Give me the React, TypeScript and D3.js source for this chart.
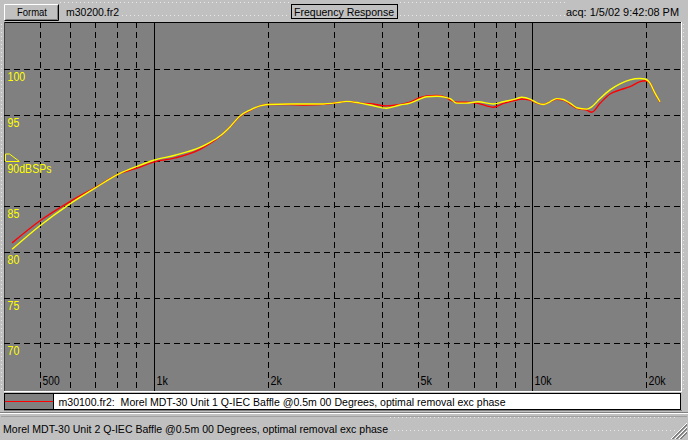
import React from "react";
import * as d3 from "d3";

// ---- data ----
const FREQS = [423, 500, 600, 700, 815, 900, 1000, 1139, 1326, 1409, 1497, 1591, 1691, 1797, 1910, 2000, 2293, 2500, 2751, 3106, 3235, 3507, 3727, 4126, 4473, 4754, 5012, 5263, 5592, 5943, 6064, 6316, 6682, 7188, 7889, 8382, 9093, 9376, 9861, 10271, 10690, 11134, 11598, 12074, 12578, 13102, 13920, 14350, 15096, 16043, 17044, 18113, 19248, 19847, 20459, 21086, 21739];
const YELLOW_DB = [80.3, 82.85, 85.25, 87.0, 88.6, 89.35, 90.05, 90.6, 91.45, 92.0, 92.7, 93.7, 94.9, 95.55, 96.0, 96.15, 96.2, 96.2, 96.2, 96.4, 96.5, 96.3, 96.1, 95.75, 96.1, 96.3, 96.7, 97.0, 97.05, 96.9, 96.8, 96.3, 96.3, 96.45, 96.2, 96.45, 96.8, 96.95, 96.75, 96.35, 96.15, 96.45, 96.8, 96.7, 96.3, 95.8, 95.65, 95.9, 96.8, 97.75, 98.4, 98.85, 99.0, 98.95, 98.5, 97.4, 96.45];
const RED_DB = [81.0, 83.4, 85.5, 87.05, 88.6, 89.15, 89.85, 90.3, 91.25, 91.9, 92.65, 93.7, 94.85, 95.5, 96.0, 96.15, 96.15, 96.1, 96.15, 96.4, 96.5, 96.3, 96.25, 96.0, 96.15, 96.4, 96.85, 97.1, 97.15, 96.9, 96.65, 96.4, 96.4, 96.28, 95.85, 96.28, 96.65, 96.75, 96.65, 96.3, 96.15, 96.45, 96.72, 96.65, 96.2, 95.73, 95.54, 95.3, 96.28, 97.3, 97.75, 98.1, 98.65, 98.75, 98.47, 97.37, 96.4];

const X_GRID = [500, 600, 700, 800, 900, 1000, 2000, 3000, 4000, 5000, 6000, 7000, 8000, 9000, 10000, 20000];
const X_SOLID = [1000, 10000];
const X_LABEL_FREQS = [500, 1000, 2000, 5000, 10000, 20000];
const X_LABEL_TEXT = ["500", "1k", "2k", "5k", "10k", "20k"];
const Y_GRID = [70, 75, 80, 85, 90, 95, 100];
const Y_LABEL_TEXT = ["70", "75", "80", "85", "90dBSPs", "95", "100"];

const TITLE = "Frequency Response";
const FILE_NAME = "m30200.fr2";
const ACQ = "acq: 1/5/02 9:42:08 PM";
const LEGEND_TEXT = "m30100.fr2:\u00a0\u00a0Morel MDT-30 Unit 1 Q-IEC Baffle @0.5m 00 Degrees, optimal removal exc phase";
const STATUS_TEXT = "Morel MDT-30 Unit 2 Q-IEC Baffle @0.5m 00 Degrees, optimal removal exc phase";

const W = 688;
const H = 440;
const FONT = "'Liberation Sans', Arial, sans-serif";

export default function App() {
  const plot = { x0: 4, y0: 22, x1: 681, y1: 391 };
  const x = d3.scaleLog().domain([1000, 10000]).range([153.6, 532.3]);
  const y = d3.scaleLinear().domain([65, 105]).range([389, 23.7]);

  const line = d3
    .line<number>()
    .x((_, i) => x(FREQS[i]))
    .y((d) => y(d))
    .curve(d3.curveMonotoneX);

  const dotRow = (yy: number, xa: number, xb: number, key: string) => {
    const xs = d3.range(xa, xb, 4);
    return (
      <g key={key}>
        {xs.map((xx) => (
          <rect key={xx} x={xx} y={yy} width={1} height={1} fill="#e8e8e8" />
        ))}
      </g>
    );
  };

  return (
    <div style={{ position: "absolute", left: 0, top: 0 }}>
      <svg width={W} height={H} style={{ display: "block" }} fontFamily={FONT}>
        <defs>
          <clipPath id="plotclip">
            <rect x={plot.x0} y={plot.y0} width={plot.x1 - plot.x0} height={plot.y1 - plot.y0} />
          </clipPath>
        </defs>
        {/* window background */}
        <rect x={0} y={0} width={W} height={H} fill="#c0c0c0" />
        {dotRow(2, 60, 290, "t1")}
        {dotRow(2, 400, 565, "t2")}
        {dotRow(15, 122, 290, "t3")}
        {dotRow(15, 400, 565, "t4")}
        {dotRow(417, 390, 676, "s1")}
        {dotRow(430, 390, 676, "s2")}

        {/* top bar */}
        <rect x={4} y={4} width={55} height={17} fill="#c0c0c0" />
        <path d="M4.5,20.5 V4.5 H58.5" fill="none" stroke="#ffffff" />
        <path d="M4.5,20.5 H58.5 V4.5" fill="none" stroke="#000000" />
        <path d="M5.5,19.5 H57.5 V5.5" fill="none" stroke="#808080" />
        <text x={17} y={16} fontSize={11} fill="#000" textLength={30} lengthAdjust="spacingAndGlyphs">Format</text>
        <text x={66} y={16} fontSize={11} fill="#000" textLength={53} lengthAdjust="spacingAndGlyphs">{FILE_NAME}</text>
        <rect x={291.5} y={4.5} width={106} height={14} fill="#c0c0c0" stroke="#000" />
        <text x={294} y={16} fontSize={11} fill="#000" textLength={100} lengthAdjust="spacingAndGlyphs">{TITLE}</text>
        <text x={566} y={16} fontSize={11} fill="#000" textLength={113} lengthAdjust="spacingAndGlyphs">{ACQ}</text>

        {/* plot area */}
        <rect x={plot.x0} y={plot.y0} width={plot.x1 - plot.x0} height={plot.y1 - plot.y0} fill="#808080" />
        <line x1={plot.x0} x2={plot.x1} y1={plot.y0 + 0.5} y2={plot.y0 + 0.5} stroke="#000" />
        <line x1={plot.x0 + 0.5} x2={plot.x0 + 0.5} y1={plot.y0} y2={plot.y1} stroke="#404040" />
        <line x1={plot.x1 + 0.5} x2={plot.x1 + 0.5} y1={plot.y0} y2={plot.y1} stroke="#ffffff" />
        <line x1={plot.x0} x2={plot.x1 + 1} y1={plot.y1 + 0.5} y2={plot.y1 + 0.5} stroke="#ffffff" />

        <g clipPath="url(#plotclip)">
          {Y_GRID.map((v) => (
            <line key={"h" + v} x1={plot.x0} x2={plot.x1} y1={Math.round(y(v)) + 0.5} y2={Math.round(y(v)) + 0.5} stroke="#000" strokeDasharray="6,4" />
          ))}
          {X_GRID.map((f) => {
            const xx = Math.round(x(f)) + 0.5;
            const solid = X_SOLID.includes(f);
            return (
              <line key={"v" + f} x1={xx} x2={xx} y1={plot.y0} y2={plot.y1} stroke="#000" strokeDasharray={solid ? undefined : "6,4"} />
            );
          })}
          {Y_GRID.map((v, i) => (
            <text key={"yl" + v} x={7.5} y={Math.round(y(v)) + 12} fontSize={12.5} fill="#ffff00"
              textLength={Y_LABEL_TEXT[i].length === 7 ? 44 : Y_LABEL_TEXT[i].length * 5.9} lengthAdjust="spacingAndGlyphs">
              {Y_LABEL_TEXT[i]}
            </text>
          ))}
          {/* reference level marker */}
          <path
            d={`M5.5,${Math.round(y(90)) - 7} H9.5 L19.5,${Math.round(y(90)) + 0.5} H5.5 Z`}
            fill="none"
            stroke="#ffff00"
          />
          {X_LABEL_FREQS.map((f, i) => (
            <text key={"xl" + f} x={Math.round(x(f)) + 2.5} y={384.5} fontSize={12} fill="#000"
              textLength={X_LABEL_TEXT[i].length * 5.7} lengthAdjust="spacingAndGlyphs">
              {X_LABEL_TEXT[i]}
            </text>
          ))}
          <path d={line(RED_DB) || ""} fill="none" stroke="#ff0000" strokeWidth={1.4} />
          <path d={line(YELLOW_DB) || ""} fill="none" stroke="#ffff00" strokeWidth={1.4} />
        </g>

        {/* right strip */}
        <rect x={682} y={22} width={6} height={370} fill="#c0c0c0" />
        {d3.range(24, 390, 4).map((yy) => (
          <rect key={"rs" + yy} x={683} y={yy} width={1} height={1} fill="#e8e8e8" />
        ))}
        {d3.range(24, 390, 4).map((yy) => (
          <rect key={"ls" + yy} x={1} y={yy} width={1} height={1} fill="#e8e8e8" />
        ))}

        {/* legend */}
        <rect x={4.5} y={393.5} width={676} height={16} fill="#ffffff" stroke="#000" />
        <rect x={5} y={394} width={48} height={15} fill="#808080" />
        <line x1={53.5} x2={53.5} y1={394} y2={409} stroke="#000" />
        <line x1={5} x2={53} y1={401.5} y2={401.5} stroke="#ff0000" />
        <line x1={4} x2={682} y1={410.5} y2={410.5} stroke="#808080" />
        <text x={58.5} y={406} fontSize={11} fill="#000" textLength={447} lengthAdjust="spacingAndGlyphs">{LEGEND_TEXT}</text>

        {/* status bar */}
        <line x1={0} x2={W} y1={412.5} y2={412.5} stroke="#808080" />
        <line x1={0} x2={W} y1={413.5} y2={413.5} stroke="#ffffff" />
        <line x1={1} x2={W - 1} y1={416.5} y2={416.5} stroke="#a0a0a0" />
        <text x={3} y={432.7} fontSize={11} fill="#000" textLength={385} lengthAdjust="spacingAndGlyphs">{STATUS_TEXT}</text>
        {[0, 4, 8].map((o) => (
          <g key={"grip" + o}>
            <line x1={687 - o - 8} y1={439} x2={687} y2={439 - o - 8} stroke="#ffffff" />
            <line x1={687 - o - 7} y1={439} x2={687} y2={439 - o - 7} stroke="#808080" />
            <line x1={687 - o - 6} y1={439} x2={687} y2={439 - o - 6} stroke="#808080" />
          </g>
        ))}
      </svg>
    </div>
  );
}
